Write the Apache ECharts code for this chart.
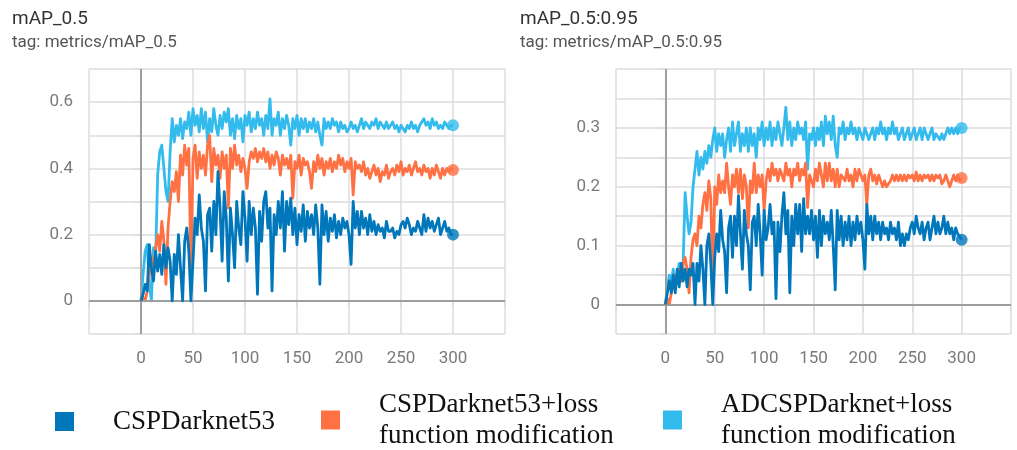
<!DOCTYPE html>
<html>
<head>
<meta charset="utf-8">
<script src="https://cdn.jsdelivr.net/npm/echarts@6/dist/echarts.min.js"></script>
<style>
html,body{margin:0;padding:0;background:#fff;}
#chart{width:1017px;height:450px;}
</style>
</head>
<body>
<div id="chart"></div>
<script>
// x positions (epochs), sampled every 2 epochs
const epochs = Array.from({length: 151}, (_, i) => i * 2);

const seriesNames = ['CSPDarknet53', 'CSPDarknet53+loss function modification', 'ADCSPDarknet+loss function modification'];
const legendLabels = ['CSPDarknet53', 'CSPDarknet53+loss\nfunction modification', 'ADCSPDarknet+loss\nfunction modification'];
const colors = ['#0077bb', '#ff7043', '#33bbee'];

const titles = ['mAP_0.5', 'mAP_0.5:0.95'];
const subtitles = ['tag: metrics/mAP_0.5', 'tag: metrics/mAP_0.5:0.95'];

const xTickLabels = ['0', '50', '100', '150', '200', '250', '300'];
const yTickLabelsLeft = ['0', '0.2', '0.4', '0.6'];
const yTickLabelsRight = ['0', '0.1', '0.2', '0.3'];

// mAP_0.5
const map50_ad = [0,0.08,0.15,0.17,0.05,0,0.16,0.12,0.38,0.45,0.47,0.4,0.33,0.3,0.45,
0.55,0.48,0.53,0.5,0.55,0.49,0.54,0.52,0.57,0.5,0.58,0.53,0.56,0.51,0.58,
0.52,0.57,0.48,0.55,0.51,0.58,0.53,0.5,0.56,0.52,0.57,0.54,0.58,0.5,0.55,
0.49,0.56,0.52,0.55,0.48,0.56,0.53,0.57,0.51,0.55,0.52,0.57,0.53,0.55,0.5,
0.56,0.52,0.61,0.5,0.55,0.53,0.57,0.5,0.55,0.52,0.56,0.53,0.47,0.55,0.52,
0.56,0.5,0.55,0.52,0.55,0.51,0.54,0.52,0.55,0.51,0.54,0.5,0.47,0.55,0.52,
0.54,0.52,0.55,0.53,0.54,0.51,0.54,0.52,0.53,0.51,0.52,0.54,0.52,0.53,0.51,
0.53,0.55,0.52,0.54,0.53,0.52,0.54,0.53,0.55,0.52,0.54,0.53,0.52,0.54,0.52,
0.53,0.54,0.52,0.53,0.51,0.53,0.52,0.51,0.53,0.52,0.54,0.52,0.53,0.51,0.53,
0.54,0.55,0.53,0.54,0.52,0.55,0.53,0.54,0.52,0.53,0.52,0.54,0.53,0.52,0.53,
0.53];
const map50_loss = [0,0.01,0,0.03,0.08,0.13,0.1,0.16,0.2,0.15,0.24,0.18,0.05,0.22,0.3,
0.36,0.33,0.39,0.3,0.44,0.38,0.47,0.41,0.46,0.08,0.43,0.47,0.37,0.45,0.4,
0.44,0.38,0.47,0.5,0.36,0.46,0.41,0.44,0.37,0.45,0.4,0.44,0.28,0.46,0.4,
0.47,0.41,0.44,0.39,0.43,0.4,0.34,0.42,0.45,0.43,0.46,0.42,0.45,0.43,0.46,
0.42,0.45,0.4,0.44,0.41,0.45,0.43,0.38,0.44,0.41,0.43,0.4,0.44,0.31,0.42,
0.4,0.44,0.38,0.43,0.41,0.42,0.39,0.34,0.42,0.39,0.44,0.4,0.43,0.38,0.42,
0.4,0.43,0.39,0.42,0.4,0.44,0.41,0.43,0.39,0.42,0.4,0.43,0.32,0.42,0.4,
0.41,0.39,0.42,0.38,0.4,0.37,0.39,0.41,0.38,0.4,0.36,0.39,0.38,0.41,0.37,
0.39,0.4,0.38,0.41,0.39,0.42,0.38,0.4,0.39,0.41,0.38,0.4,0.42,0.39,0.4,
0.38,0.41,0.39,0.4,0.37,0.4,0.38,0.41,0.39,0.37,0.4,0.38,0.4,0.39,0.4,
0.395];
const map50_csp = [0,0.02,0.05,0.03,0.17,0.1,0.06,0.15,0.09,0.14,0.08,0.17,0.1,0.16,0.12,
0,0.14,0.08,0.2,0.1,0,0.18,0.22,0.15,0,0.12,0.25,0.2,0.32,0.22,
0.18,0.03,0.26,0.28,0.15,0.3,0.2,0.39,0.28,0.12,0.33,0.25,0.06,0.28,0.2,
0.1,0.3,0.22,0.17,0.33,0.25,0.12,0.3,0.2,0.28,0.22,0.02,0.27,0.18,0.3,
0.33,0.22,0.28,0.03,0.26,0.2,0.3,0.22,0.33,0.15,0.3,0.23,0.31,0.2,0.28,
0.17,0.26,0.21,0.29,0.18,0.27,0.22,0.26,0.2,0.29,0.22,0.05,0.29,0.2,0.27,
0.18,0.25,0.21,0.26,0.19,0.24,0.2,0.25,0.22,0.24,0.2,0.11,0.3,0.22,0.27,
0.2,0.27,0.22,0.25,0.2,0.26,0.21,0.24,0.2,0.23,0.21,0.22,0.19,0.24,0.21,
0.21,0.22,0.19,0.21,0.2,0.23,0.24,0.22,0.25,0.23,0.2,0.22,0.21,0.24,0.22,
0.2,0.26,0.21,0.25,0.22,0.24,0.21,0.23,0.25,0.2,0.22,0.24,0.21,0.22,0.2,
0.2];

// mAP_0.5:0.95
const map5095_ad = [0,0.03,0.05,0.04,0.06,0.03,0.05,0.07,0.04,0.07,0.19,0.15,0.12,0.14,0.2,
0.2,0.26,0.22,0.25,0.23,0.26,0.24,0.27,0.25,0.28,0.3,0.26,0.29,0.27,0.29,
0.25,0.28,0.3,0.26,0.31,0.27,0.29,0.31,0.26,0.29,0.27,0.3,0.26,0.3,0.27,
0.29,0.25,0.3,0.28,0.31,0.27,0.3,0.28,0.31,0.27,0.3,0.28,0.31,0.29,0.27,
0.3,0.335,0.28,0.31,0.27,0.3,0.28,0.31,0.29,0.3,0.28,0.31,0.23,0.29,0.28,
0.3,0.27,0.3,0.28,0.31,0.27,0.32,0.29,0.31,0.28,0.32,0.27,0.25,0.3,0.29,
0.31,0.28,0.3,0.29,0.31,0.29,0.3,0.28,0.3,0.29,0.28,0.3,0.29,0.28,0.29,
0.3,0.28,0.3,0.29,0.31,0.29,0.3,0.28,0.3,0.29,0.31,0.29,0.3,0.28,0.29,
0.3,0.28,0.29,0.3,0.28,0.29,0.3,0.28,0.29,0.3,0.28,0.3,0.29,0.28,0.29,
0.3,0.28,0.29,0.285,0.28,0.29,0.28,0.29,0.3,0.29,0.3,0.29,0.3,0.29,0.3,
0.3];
const map5095_loss = [0,0.01,0,0.02,0.03,0.05,0.04,0.06,0.04,0.07,0.08,0.06,0.02,0.08,0.11,
0.12,0.1,0.15,0.13,0.17,0.19,0.16,0.21,0.18,0.03,0.2,0.17,0.22,0.19,0.21,
0.19,0.24,0.2,0.17,0.22,0.2,0.23,0.19,0.23,0.18,0.22,0.2,0.13,0.21,0.19,
0.24,0.19,0.22,0.2,0.22,0.16,0.21,0.23,0.21,0.24,0.22,0.23,0.21,0.23,0.22,
0.21,0.24,0.22,0.23,0.2,0.23,0.22,0.24,0.21,0.23,0.22,0.24,0.165,0.22,0.21,
0.2,0.23,0.21,0.24,0.22,0.2,0.24,0.21,0.24,0.21,0.23,0.2,0.23,0.2,0.22,
0.22,0.21,0.23,0.21,0.22,0.2,0.23,0.21,0.23,0.22,0.21,0.22,0.17,0.22,0.23,
0.21,0.22,0.205,0.22,0.21,0.2,0.21,0.2,0.205,0.21,0.22,0.21,0.22,0.21,0.22,
0.21,0.22,0.21,0.22,0.215,0.22,0.21,0.225,0.21,0.22,0.21,0.22,0.215,0.22,0.21,
0.22,0.21,0.22,0.215,0.22,0.205,0.21,0.22,0.21,0.2,0.21,0.22,0.21,0.22,0.21,
0.215];
const map5095_csp = [0,0.02,0.04,0.02,0.05,0.02,0.06,0.03,0.07,0.04,0.06,0.03,0.06,0.05,0.07,
0,0.07,0.04,0.1,0.06,0,0.1,0.12,0.07,0,0.08,0.12,0.09,0.16,0.11,
0.09,0.02,0.13,0.15,0.08,0.15,0.1,0.185,0.12,0.06,0.16,0.12,0.1,0.025,0.14,
0.15,0.1,0.17,0.12,0.05,0.16,0.11,0.13,0.17,0.12,0.14,0.01,0.14,0.09,0.15,
0.19,0.12,0.16,0.02,0.15,0.1,0.17,0.12,0.17,0.09,0.18,0.12,0.15,0.12,0.16,
0.11,0.15,0.08,0.16,0.1,0.15,0.12,0.14,0.11,0.16,0.1,0.025,0.16,0.11,0.15,
0.1,0.14,0.11,0.15,0.1,0.14,0.11,0.15,0.12,0.14,0.11,0.06,0.17,0.12,0.15,
0.11,0.15,0.12,0.14,0.11,0.14,0.12,0.13,0.11,0.14,0.12,0.13,0.11,0.14,0.1,
0.12,0.1,0.12,0.11,0.13,0.14,0.12,0.15,0.13,0.12,0.14,0.11,0.13,0.14,0.11,
0.13,0.15,0.12,0.14,0.12,0.13,0.15,0.12,0.14,0.12,0.13,0.11,0.13,0.12,0.12,
0.11];

const panels = [
  {values: [map50_csp, map50_loss, map50_ad], yMin: -0.1, yMax: 0.7, yInt: 0.1, yLabels: yTickLabelsLeft},
  {values: [map5095_csp, map5095_loss, map5095_ad], yMin: -0.05, yMax: 0.4, yInt: 0.05, yLabels: yTickLabelsRight}
];

const gridColor = '#dcdcdc';
const zeroColor = '#9e9e9e';
const labelColor = '#7a7a7a';
const labelFont = 'Roboto';

const chart = echarts.init(document.getElementById('chart'), null, {renderer: 'canvas'});

const grids = [
  {left: 89, right: 512, top: 69, bottom: 116},
  {left: 616, right: 6, top: 69, bottom: 116}
];

const xAxes = panels.map((p, i) => ({
  type: 'value', gridIndex: i, min: -50, max: 350, interval: 50,
  axisLine: {show: true, lineStyle: {color: gridColor, width: 1.5}},
  axisTick: {show: true, length: 7, lineStyle: {color: gridColor, width: 1.5}},
  splitLine: {show: true, lineStyle: {color: gridColor, width: 1.5}},
  axisLabel: {
    margin: 16, color: labelColor, fontFamily: labelFont, fontSize: 17,
    formatter: v => xTickLabels.includes(String(v)) ? String(v) : ''
  }
}));

const yAxes = panels.map((p, i) => ({
  type: 'value', gridIndex: i, min: p.yMin, max: p.yMax, interval: p.yInt,
  axisLine: {show: false},
  axisTick: {show: true, length: 7, lineStyle: {color: gridColor, width: 1.5}},
  splitLine: {show: true, lineStyle: {color: gridColor, width: 1.5}},
  axisLabel: {
    margin: 16, color: labelColor, fontFamily: labelFont, fontSize: 17,
    formatter: v => {
      const s = String(parseFloat(v.toFixed(3)));
      return p.yLabels.includes(s) ? s : '';
    }
  }
}));

const series = [];
panels.forEach((p, gi) => {
  // draw order: ADCSP (cyan), loss (orange), CSP (dark blue) on top
  [2, 1, 0].forEach((si, k) => {
    const vals = p.values[si];
    series.push({
      name: seriesNames[si], type: 'line', xAxisIndex: gi, yAxisIndex: gi,
      data: epochs.map((e, j) => [e, vals[j]]),
      symbol: 'none', smooth: false, animation: false,
      lineStyle: {color: colors[si], width: 2.8, join: 'round'},
      itemStyle: {color: colors[si]},
      z: 3 + k,
      markLine: k === 0 ? {
        silent: true, symbol: 'none', animation: false, label: {show: false},
        lineStyle: {color: zeroColor, width: 2, type: 'solid'},
        data: [{xAxis: 0}, {yAxis: 0}]
      } : undefined
    });
    series.push({
      name: seriesNames[si], type: 'scatter', xAxisIndex: gi, yAxisIndex: gi,
      data: [[epochs[epochs.length - 1], vals[vals.length - 1]]],
      symbol: 'circle', symbolSize: 12, animation: false,
      itemStyle: {color: colors[si]}, z: 6 + k
    });
  });
});

const legendLefts = [50, 316, 658];
const legendTops = [401, 384, 384];
const legends = seriesNames.map((n, i) => ({
  data: [n], left: legendLefts[i], top: legendTops[i], orient: 'horizontal',
  icon: 'rect', itemWidth: 19, itemHeight: 19, selectedMode: false,
  formatter: () => legendLabels[i],
  textStyle: {fontFamily: 'Liberation Serif', fontSize: 27, lineHeight: 31, color: '#111', padding: [0, 0, 0, 34]}
}));

const titleLefts = [12, 520];
const titleComps = titles.map((t, i) => ({
  text: t, subtext: subtitles[i], left: titleLefts[i], top: 9, itemGap: 3, padding: 0,
  textStyle: {fontFamily: 'Roboto', fontSize: 19, lineHeight: 21, fontWeight: 'normal', color: '#333'},
  subtextStyle: {fontFamily: 'Roboto', fontSize: 17, lineHeight: 19, color: '#555'}
}));

chart.setOption({
  backgroundColor: '#fff',
  animation: false,
  title: titleComps,
  legend: legends,
  grid: grids,
  xAxis: xAxes,
  yAxis: yAxes,
  series: series
});
</script>
</body>
</html>
